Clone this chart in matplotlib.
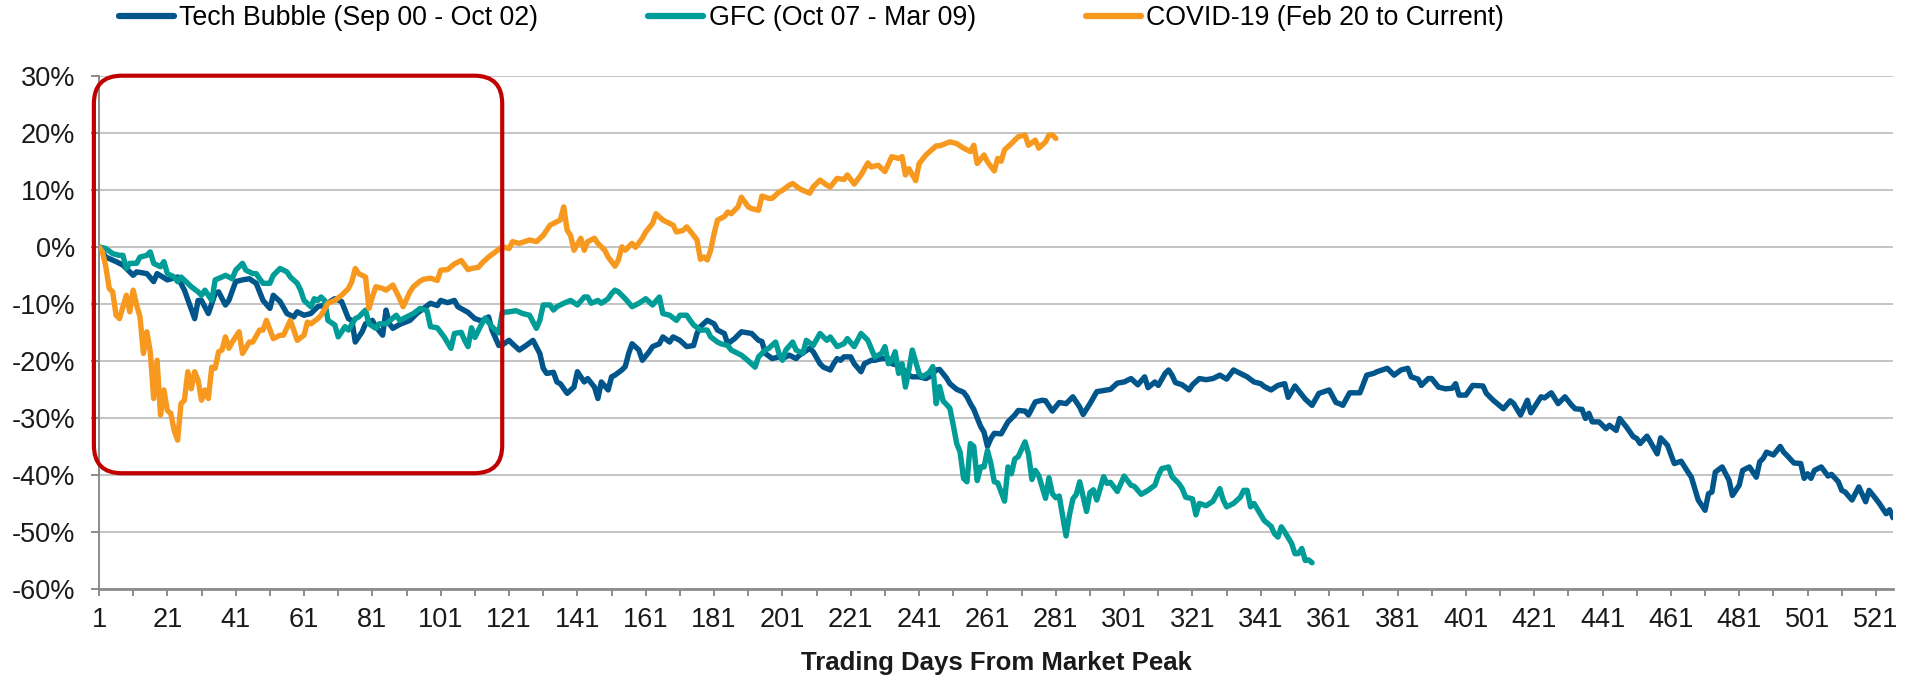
import matplotlib
matplotlib.use("Agg")
import matplotlib.pyplot as plt
from matplotlib.patches import FancyBboxPatch
from matplotlib.lines import Line2D

plt.rcParams["font.family"] = ["Liberation Sans", "DejaVu Sans"]

# ---- data: cumulative return (%) by trading day from the market peak ----
tech_days = [1, 3, 6, 8, 11, 12, 15, 17, 18, 21, 24, 26, 29, 30, 31, 33, 35, 36, 38, 39,
             41, 43, 45, 47, 49, 51, 52, 54, 56, 58, 59, 61, 63, 65, 67, 70, 72, 74, 75, 76,
             78, 79, 81, 82, 84, 85, 86, 87, 89, 92, 94, 96, 98, 100, 101, 103, 105, 106, 109, 111,
             113, 115, 116, 118, 119, 121, 122, 124, 126, 128, 130, 131, 132, 134, 135, 136, 138, 140, 141, 143,
             144, 146, 147, 148, 150, 151, 152, 154, 155, 156, 157, 159, 160, 162, 163, 165, 166, 168, 169, 171,
             173, 175, 176, 177, 179, 181, 182, 184, 185, 187, 189, 190, 192, 194, 195, 196, 198, 200, 201, 203,
             205, 206, 209, 210, 212, 213, 215, 216, 217, 218, 219, 221, 222, 224, 225, 227, 228, 230, 232, 233,
             235, 236, 238, 239, 241, 243, 244, 246, 247, 249, 250, 252, 254, 255, 256, 257, 258, 259, 260, 261,
             262, 263, 265, 267, 269, 270, 272, 273, 275, 277, 278, 280, 282, 284, 286, 288, 289, 291, 293, 297,
             299, 301, 303, 305, 307, 308, 310, 311, 313, 314, 315, 316, 318, 320, 321, 323, 325, 327, 329, 331,
             333, 335, 337, 339, 341, 342, 344, 346, 348, 349, 351, 352, 354, 356, 358, 361, 363, 364, 365, 367,
             370, 372, 374, 375, 378, 380, 382, 384, 385, 387, 388, 390, 391, 393, 395, 397, 398, 399, 401, 403,
             406, 407, 409, 412, 414, 415, 417, 419, 420, 423, 424, 426, 428, 430, 432, 433, 435, 436, 437, 438,
             440, 442, 443, 445, 446, 448, 450, 451, 452, 454, 455, 457, 458, 460, 462, 464, 466, 467, 469, 471,
             472, 473, 474, 476, 478, 479, 481, 482, 484, 486, 487, 488, 489, 491, 493, 494, 495, 497, 499, 500,
             501, 502, 503, 505, 507, 508, 510, 511, 512, 514, 516, 518, 519, 521, 522, 524, 525, 526]
tech_vals = [0.0, -1.8, -2.6, -3.2, -5.0, -4.4, -4.7, -6.1, -4.7, -5.8, -5.3, -7.6, -12.6, -9.4, -9.4, -11.7, -8.2, -7.9, -10.2, -9.4,
             -6.1, -5.8, -5.6, -6.4, -9.4, -10.8, -8.5, -9.6, -11.7, -12.3, -11.4, -12.0, -11.7, -10.5, -10.2, -9.1, -9.6, -12.6, -12.9, -16.7,
             -14.9, -13.5, -12.9, -14.0, -15.5, -11.1, -13.5, -14.3, -13.6, -12.9, -11.7, -10.8, -9.9, -10.3, -9.4, -9.8, -9.4, -10.5, -11.5, -12.6,
             -13.0, -12.3, -14.6, -17.3, -17.2, -16.4, -17.0, -18.1, -17.3, -16.4, -18.7, -21.3, -22.2, -22.0, -23.7, -24.0, -25.7, -24.6, -21.9, -23.7,
             -23.1, -24.6, -26.6, -23.7, -25.1, -22.8, -22.5, -21.6, -21.0, -18.7, -17.0, -18.1, -19.9, -18.4, -17.5, -17.0, -15.8, -16.7, -15.8, -16.4,
             -17.5, -17.3, -15.2, -14.0, -12.9, -13.5, -14.6, -15.2, -17.0, -16.1, -14.9, -15.0, -15.2, -16.4, -16.6, -18.7, -19.6, -19.3, -19.6, -19.0,
             -19.6, -19.0, -17.8, -18.4, -20.5, -21.1, -21.6, -20.5, -19.6, -19.9, -19.3, -19.3, -20.5, -21.9, -20.5, -19.9, -19.9, -19.6, -19.6, -20.5,
             -20.8, -21.3, -22.5, -22.8, -22.8, -23.1, -22.8, -21.6, -21.5, -23.0, -24.0, -25.0, -25.5, -26.3, -27.5, -28.5, -30.0, -31.5, -32.5, -35.0,
             -33.6, -32.7, -32.8, -30.7, -29.5, -28.7, -28.8, -29.5, -27.2, -26.9, -27.0, -28.8, -27.3, -27.5, -26.3, -28.1, -29.4, -27.5, -25.4, -25.0,
             -23.9, -23.7, -23.1, -24.2, -22.8, -24.7, -23.7, -24.3, -22.2, -21.6, -22.5, -23.8, -24.2, -25.1, -24.2, -23.1, -23.3, -23.1, -22.5, -23.2,
             -21.6, -22.2, -22.8, -23.7, -24.0, -24.5, -25.1, -24.3, -24.0, -26.4, -24.4, -25.2, -26.7, -27.8, -25.7, -25.1, -27.3, -27.5, -27.8, -25.6,
             -25.6, -22.5, -22.2, -21.9, -21.3, -22.5, -21.6, -21.3, -22.8, -23.2, -24.3, -23.1, -23.1, -24.6, -24.9, -24.8, -24.0, -26.0, -26.0, -24.3,
             -24.4, -25.7, -26.9, -28.4, -27.0, -27.5, -29.5, -26.9, -29.1, -26.3, -26.5, -25.6, -27.5, -26.3, -27.8, -28.4, -28.5, -30.1, -29.2, -30.7,
             -30.7, -31.9, -31.3, -32.2, -30.1, -31.6, -33.3, -33.6, -34.5, -33.2, -34.2, -36.3, -33.5, -34.8, -38.0, -37.6, -39.5, -40.4, -44.4, -46.2,
             -43.3, -43.0, -39.5, -38.6, -40.9, -43.6, -41.8, -39.2, -38.6, -40.4, -37.7, -37.1, -36.0, -36.5, -35.0, -36.0, -36.6, -37.9, -38.0, -40.6,
             -39.8, -40.6, -39.2, -38.6, -40.2, -39.9, -41.2, -42.7, -43.0, -44.4, -42.1, -44.7, -42.7, -44.2, -45.0, -46.8, -46.1, -47.5]

gfc_days = [1, 3, 5, 7, 8, 9, 10, 12, 13, 15, 16, 17, 19, 20, 21, 23, 24, 25, 27, 28,
            30, 31, 32, 34, 35, 37, 38, 40, 41, 43, 44, 46, 47, 48, 49, 51, 52, 54, 56, 57,
            59, 60, 61, 63, 64, 65, 66, 67, 68, 70, 71, 73, 74, 76, 77, 79, 80, 82, 83, 85,
            88, 89, 91, 93, 95, 97, 98, 100, 102, 104, 105, 107, 108, 109, 110, 111, 113, 114, 116, 118,
            119, 121, 123, 125, 127, 129, 130, 131, 133, 134, 135, 137, 139, 141, 143, 144, 145, 147, 148, 150,
            151, 152, 153, 155, 157, 159, 161, 163, 165, 166, 168, 170, 171, 173, 174, 175, 177, 179, 180, 182,
            183, 185, 186, 188, 189, 191, 193, 194, 196, 197, 199, 200, 201, 202, 204, 205, 207, 208, 210, 212,
            214, 215, 217, 219, 220, 222, 224, 226, 228, 230, 231, 232, 233, 234, 235, 236, 237, 238, 239, 241,
            242, 244, 245, 246, 247, 248, 250, 251, 252, 253, 254, 255, 256, 257, 258, 259, 260, 261, 262, 263,
            264, 266, 267, 268, 269, 270, 272, 273, 274, 275, 276, 278, 279, 280, 281, 282, 284, 285, 286, 287,
            288, 290, 291, 292, 293, 295, 296, 297, 299, 301, 302, 303, 304, 306, 308, 310, 311, 312, 314, 315,
            317, 318, 319, 321, 322, 323, 325, 327, 329, 330, 331, 333, 335, 336, 337, 338, 339, 341, 342, 344,
            345, 346, 347, 348, 350, 351, 352, 353, 354, 355, 356]
gfc_vals = [0.0, -0.3, -1.2, -1.5, -1.5, -3.8, -2.9, -2.9, -1.8, -1.5, -0.9, -2.9, -3.5, -2.6, -4.7, -5.3, -6.1, -5.3, -6.4, -7.0,
            -7.9, -8.5, -7.6, -9.4, -5.8, -5.3, -5.0, -5.6, -4.1, -2.9, -4.1, -4.7, -4.7, -5.6, -6.4, -6.4, -5.0, -3.8, -4.4, -5.3,
            -6.4, -7.6, -9.4, -10.5, -9.1, -9.4, -8.8, -9.4, -12.9, -13.7, -15.8, -14.0, -14.6, -12.6, -12.3, -11.1, -13.5, -14.3, -13.5, -13.5,
            -12.0, -12.9, -12.3, -11.7, -10.8, -11.2, -14.0, -14.2, -15.8, -17.8, -15.2, -15.0, -16.4, -17.5, -14.2, -15.9, -13.5, -12.5, -14.0, -15.1,
            -11.5, -11.4, -11.2, -11.7, -12.0, -14.3, -12.9, -10.2, -10.2, -11.1, -10.5, -9.9, -9.4, -10.2, -8.8, -8.8, -9.9, -9.4, -9.9, -9.1,
            -8.2, -7.6, -7.9, -9.1, -10.5, -9.9, -9.1, -10.2, -8.8, -11.7, -12.0, -12.9, -12.0, -12.0, -12.9, -13.7, -14.6, -14.6, -15.8, -16.7,
            -17.0, -17.3, -18.1, -18.7, -19.0, -20.0, -21.1, -19.3, -18.1, -17.8, -16.7, -18.7, -19.9, -18.1, -16.7, -18.1, -18.7, -16.4, -17.3, -15.2,
            -16.4, -15.8, -17.5, -17.0, -16.1, -17.5, -15.2, -16.4, -19.3, -18.7, -17.5, -20.5, -19.9, -18.4, -22.2, -20.5, -24.6, -21.6, -18.1, -22.2,
            -22.8, -22.0, -21.0, -27.5, -24.5, -27.0, -28.3, -31.3, -34.5, -36.0, -40.6, -41.2, -34.5, -35.0, -41.0, -38.6, -38.6, -35.7, -38.0, -41.2,
            -41.4, -44.6, -38.6, -39.8, -37.2, -36.8, -34.2, -36.3, -40.8, -39.2, -40.1, -44.1, -40.5, -43.3, -44.0, -43.7, -50.7, -47.0, -44.2, -43.4,
            -41.2, -46.4, -43.1, -42.6, -44.4, -40.3, -41.5, -41.3, -42.9, -40.2, -41.0, -41.8, -42.0, -43.4, -42.7, -41.8, -40.1, -38.9, -38.6, -40.3,
            -41.5, -42.4, -43.9, -44.2, -47.0, -45.0, -45.4, -44.6, -42.4, -44.4, -45.6, -45.0, -43.9, -42.7, -42.7, -45.6, -45.0, -47.0, -48.0, -49.0,
            -50.3, -50.9, -49.1, -50.0, -52.0, -53.8, -53.8, -52.9, -55.0, -54.9, -55.4]

covid_days = [1, 2, 3, 4, 5, 6, 7, 9, 10, 11, 12, 13, 14, 15, 16, 17, 18, 19, 20, 21,
              22, 23, 24, 25, 26, 27, 28, 29, 30, 31, 32, 33, 34, 35, 36, 37, 38, 39, 40, 42,
              43, 45, 46, 48, 49, 50, 52, 54, 55, 57, 58, 59, 61, 62, 63, 65, 66, 68, 70, 72,
              74, 75, 76, 77, 79, 80, 81, 82, 84, 85, 87, 89, 90, 92, 93, 95, 96, 98, 100, 101,
              103, 105, 107, 109, 110, 112, 113, 115, 117, 119, 121, 122, 124, 127, 129, 131, 133, 135, 136, 137,
              138, 139, 140, 142, 143, 144, 146, 147, 149, 150, 152, 153, 154, 155, 157, 158, 160, 161, 163, 164,
              166, 167, 169, 170, 172, 173, 175, 176, 177, 178, 179, 180, 181, 182, 184, 185, 186, 188, 189, 191,
              192, 194, 195, 197, 198, 200, 201, 203, 204, 206, 207, 209, 210, 212, 214, 215, 217, 219, 220, 222,
              224, 226, 227, 229, 231, 233, 235, 236, 237, 238, 240, 241, 243, 246, 247, 250, 252, 254, 256, 257,
              258, 260, 261, 263, 264, 265, 266, 268, 270, 272, 273, 275, 276, 278, 279, 280, 281]
covid_vals = [0.0, -0.9, -3.5, -7.3, -7.9, -12.0, -12.6, -8.5, -11.4, -7.6, -10.2, -12.3, -18.7, -14.9, -18.4, -26.6, -19.9, -29.5, -25.1, -28.7,
              -29.2, -32.2, -33.9, -27.5, -26.9, -21.9, -24.9, -21.9, -23.4, -26.9, -25.1, -26.6, -21.1, -21.3, -18.4, -18.1, -15.8, -17.8, -16.7, -14.9,
              -18.7, -16.7, -16.7, -14.6, -14.6, -12.9, -16.1, -15.5, -15.5, -12.9, -14.6, -16.4, -15.5, -13.2, -13.5, -12.6, -12.0, -9.9, -9.4, -8.5,
              -7.3, -6.1, -3.8, -4.7, -5.3, -10.8, -8.8, -7.0, -7.3, -7.6, -6.7, -9.1, -10.5, -7.9, -7.0, -6.0, -5.7, -5.5, -5.9, -4.1,
              -4.0, -3.0, -2.4, -4.0, -3.8, -3.6, -2.9, -1.8, -0.9, 0.0, -0.3, 0.9, 0.6, 1.2, 0.9, 2.0, 3.8, 4.4, 4.7, 7.0,
              2.9, 2.0, -0.6, 1.5, -0.6, 0.9, 1.5, 0.6, -0.6, -1.8, -3.4, -2.3, 0.0, -0.6, 0.6, -0.1, 1.5, 2.6, 4.1, 5.8,
              4.7, 4.4, 3.8, 2.6, 2.9, 3.5, 2.0, 1.2, -2.2, -1.8, -2.3, -0.6, 2.3, 4.7, 5.3, 6.1, 5.8, 7.0, 8.7, 7.0,
              6.7, 6.4, 8.9, 8.5, 8.5, 9.6, 9.9, 10.8, 11.1, 10.2, 9.9, 9.4, 10.5, 11.7, 10.8, 10.5, 12.0, 11.8, 12.6, 11.0,
              12.6, 14.7, 14.0, 14.3, 13.2, 15.8, 15.5, 15.8, 12.6, 13.7, 11.6, 14.6, 16.1, 17.7, 17.7, 18.4, 18.1, 17.3, 16.7, 17.8,
              14.6, 16.1, 14.9, 13.3, 15.5, 15.0, 17.0, 18.1, 19.3, 19.6, 17.8, 18.7, 17.3, 18.4, 19.6, 19.6, 19.0]

series_labels = ["Tech Bubble (Sep 00 - Oct 02)", "GFC (Oct 07 - Mar 09)", "COVID-19 (Feb 20 to Current)"]
series_colors = ["#00558B", "#009C97", "#F7991F"]

y_ticks = [-60, -50, -40, -30, -20, -10, 0, 10, 20, 30]
y_tick_labels = ["-60%", "-50%", "-40%", "-30%", "-20%", "-10%", "0%", "10%", "20%", "30%"]
n_days = 526
x_label_ticks = list(range(1, n_days + 1, 20))
x_minor_ticks = list(range(11, n_days + 1, 20))
x_title = "Trading Days From Market Peak"

# highlighted early-drawdown window (days, %)
box_days = (-0.5, 119)
box_vals = (-39.7, 30)

# ---- figure ----
W, H = 1914, 683
fig = plt.figure(figsize=(W / 100, H / 100), dpi=100)
ax_l, ax_r, ax_t, ax_b = 99, 1893, 75.7, 589
ax = fig.add_axes([ax_l / W, (H - ax_b) / H, (ax_r - ax_l) / W, (ax_b - ax_t) / H])

lw = 3.9
for days, vals, col in [(tech_days, tech_vals, series_colors[0]),
                        (gfc_days, gfc_vals, series_colors[1]),
                        (covid_days, covid_vals, series_colors[2])]:
    ax.plot(days, vals, color=col, lw=lw, solid_joinstyle="round", solid_capstyle="round", zorder=3)

ax.set_xlim(1, n_days)
ax.set_ylim(-60, 30)

ax.set_yticks(y_ticks)
ax.set_yticklabels(y_tick_labels)
ax.set_xticks(x_label_ticks)
ax.set_xticklabels([str(t) for t in x_label_ticks])
ax.set_xticks(x_minor_ticks, minor=True)

ax.grid(axis="y", color="#C4C4C4", lw=1.4, zorder=0)
ax.set_axisbelow(True)

for s in ["top", "right"]:
    ax.spines[s].set_visible(False)
ax.spines["left"].set_color("#8C8C8C")
ax.spines["left"].set_linewidth(1.4)
ax.spines["bottom"].set_color("#8C8C8C")
ax.spines["bottom"].set_linewidth(2.0)
ax.spines["bottom"].set_zorder(4)

ax.tick_params(axis="y", length=6, width=1.4, color="#8C8C8C", pad=11, labelsize=19.5, labelcolor="#1A1A1A")
ax.tick_params(axis="x", which="both", length=5, width=1.4, color="#8C8C8C", pad=8, labelsize=19.5, labelcolor="#1A1A1A")

ax.set_xlabel(x_title, fontsize=18.5, fontweight="bold", color="#1A1A1A", labelpad=13)

# rounded highlight box (corners kept circular in screen space)
px_per_x = (ax_r - ax_l) / (n_days - 1)
px_per_y = (ax_b - ax_t) / 90.0
radius_px = 28
box = FancyBboxPatch((box_days[0], box_vals[0]), box_days[1] - box_days[0], box_vals[1] - box_vals[0],
                     boxstyle=f"round,pad=0,rounding_size={radius_px / px_per_x}",
                     mutation_aspect=px_per_x / px_per_y,
                     transform=ax.transData, clip_on=False, fill=False,
                     edgecolor="#C00000", lw=3.0, zorder=5)
ax.add_patch(box)

handles = [Line2D([], [], color=c, lw=lw + 0.6, solid_capstyle="round") for c in series_colors]
fig.legend(handles, series_labels, loc="center left", bbox_to_anchor=(119 / W, 1 - 18 / H),
           bbox_transform=fig.transFigure, ncol=3, frameon=False, fontsize=19.3,
           borderpad=0, borderaxespad=0, handlelength=2.05, handletextpad=0.2, columnspacing=4.1)

fig.savefig("out.png", dpi=100)
